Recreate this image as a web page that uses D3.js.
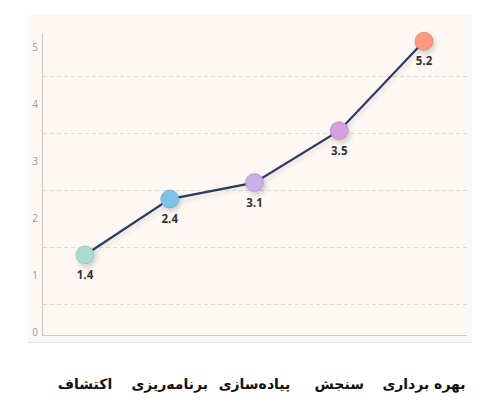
<!DOCTYPE html>
<html>
<head>
<meta charset="utf-8">
<script src="https://cdn.jsdelivr.net/npm/d3@7"></script>
<style>
  html, body { margin: 0; padding: 0; background: #ffffff; }
  svg { display: block; }
</style>
</head>
<body>
<div id="chart"></div>
<script>
// ---- data ----
const categories = ["اکتشاف", "برنامه‌ریزی", "پیاده‌سازی", "سنجش", "بهره برداری"];
const values = [1.36, 2.34, 2.63, 3.54, 5.11];          // plotted heights
const valueLabels = ["1.4", "2.4", "3.1", "3.5", "5.2"];  // printed labels
const pointColors = ["#a9dccf", "#7ec3ea", "#c6b1e8", "#d6a0de", "#fb9a7e"];
const yTicks = [0, 1, 2, 3, 4, 5];
const gridValues = [0.5, 1.5, 2.5, 3.5, 4.5];

const W = 500, H = 409;
const svg = d3.select("#chart").append("svg").attr("width", W).attr("height", H);

const defs = svg.append("defs");
const f = defs.append("filter").attr("id", "shadow").attr("x", "-50%").attr("y", "-50%").attr("width", "200%").attr("height", "200%");
f.append("feDropShadow").attr("dx", 2).attr("dy", 3).attr("stdDeviation", 2.5).attr("flood-color", "#000").attr("flood-opacity", 0.18);
const fl = defs.append("filter").attr("id", "lshadow").attr("x", "-10%").attr("y", "-10%").attr("width", "120%").attr("height", "130%");
fl.append("feDropShadow").attr("dx", 1).attr("dy", 3).attr("stdDeviation", 2).attr("flood-color", "#000").attr("flood-opacity", 0.12);

// panel
svg.append("rect").attr("x", 28).attr("y", 15).attr("width", 444).attr("height", 327).attr("fill", "#fdf8f3");
svg.append("line").attr("x1", 28).attr("x2", 472).attr("y1", 342.5).attr("y2", 342.5).attr("stroke", "#e8e4e0").attr("stroke-width", 1);

const x = d3.scalePoint().domain(categories).range([85, 424]);
const y = d3.scaleLinear().domain([0, 5]).range([332.5, 47.5]);

// grid
svg.append("g").selectAll("line").data(gridValues).join("line")
  .attr("x1", 43).attr("x2", 468)
  .attr("y1", d => Math.round(y(d)) + 0.5).attr("y2", d => Math.round(y(d)) + 0.5)
  .attr("stroke", "#dedad6").attr("stroke-width", 1).attr("stroke-dasharray", "4,3");

// axes lines
svg.append("line").attr("x1", 42.5).attr("x2", 42.5).attr("y1", 33).attr("y2", 336).attr("stroke", "#cfcbc7").attr("stroke-width", 1.2);
svg.append("line").attr("x1", 42).attr("x2", 467).attr("y1", 335.5).attr("y2", 335.5).attr("stroke", "#cfcbc7").attr("stroke-width", 1.2);

// y tick labels
const yAxis = d3.axisLeft(y).tickValues(yTicks).tickSize(0).tickPadding(0).tickFormat(d3.format("d"));
const ga = svg.append("g").attr("transform", "translate(38,0)").call(yAxis);
ga.select(".domain").remove();
ga.selectAll("text").attr("fill", "#9a9a9a").style("font-family", "'Open Sans', sans-serif").style("font-size", "10px");

// line
const line = d3.line().x((d, i) => x(categories[i])).y(d => y(d));
svg.append("path").datum(values).attr("d", line)
  .attr("fill", "none").attr("stroke", "#2b3a62").attr("stroke-width", 2.2).attr("filter", "url(#lshadow)");

// points
svg.append("g").selectAll("circle").data(values).join("circle")
  .attr("cx", (d, i) => x(categories[i])).attr("cy", d => y(d)).attr("r", 9)
  .attr("fill", (d, i) => pointColors[i])
  .attr("stroke", (d, i) => d3.color(pointColors[i]).darker(0.4))
  .attr("stroke-width", 0.8)
  .attr("filter", "url(#shadow)");

// value labels
svg.append("g").selectAll("text").data(values).join("text")
  .attr("x", (d, i) => x(categories[i])).attr("y", d => y(d) + 24)
  .attr("text-anchor", "middle")
  .attr("fill", "#333")
  .style("font-family", "'Open Sans', sans-serif").style("font-size", "11.5px").style("font-weight", "bold")
  .text((d, i) => valueLabels[i]);

// category labels
svg.append("g").selectAll("text").data(categories).join("text")
  .attr("x", d => x(d)).attr("y", 389)
  .attr("text-anchor", "middle").attr("direction", "rtl")
  .attr("fill", "#111")
  .style("font-family", "'DejaVu Sans', sans-serif").style("font-size", "14px").style("font-weight", "bold")
  .text(d => d);
</script>
</body>
</html>
